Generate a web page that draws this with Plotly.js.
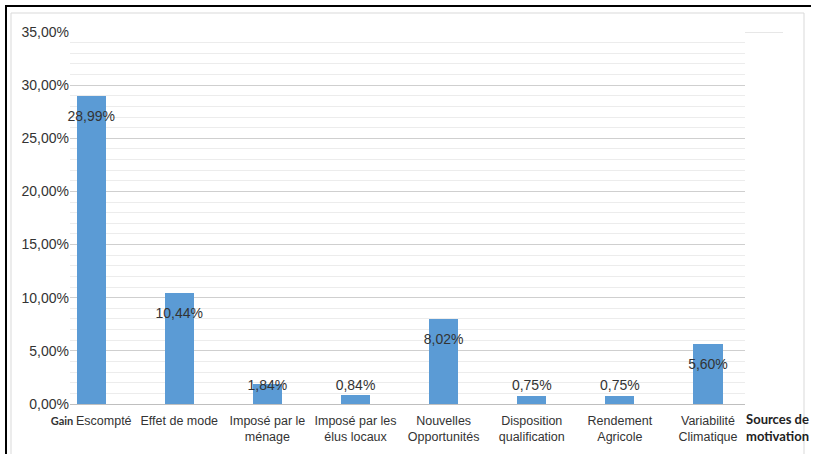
<!DOCTYPE html>
<html>
<head>
<meta charset="utf-8">
<script src="https://cdn.plot.ly/plotly-3.0.1.min.js"></script>
<style>
html,body{margin:0;padding:0;background:#fff;}
#chart{width:813px;height:454px;}
</style>
</head>
<body>
<div id="chart"></div>
<script>
var categories = ["Gain Escompté","Effet de mode","Imposé par le ménage","Imposé par les élus locaux","Nouvelles Opportunités","Disposition qualification","Rendement Agricole","Variabilité Climatique"];
var tickLabels = ['<span style="font-family:Lato,Liberation Sans;font-weight:bold;font-size:11px">Gain </span>Escompté',"Effet de mode","Imposé par le<br>ménage","Imposé par les<br>élus locaux","Nouvelles<br>Opportunités","Disposition<br>qualification","Rendement<br>Agricole","Variabilité<br>Climatique"];
var values = [28.99,10.44,1.84,0.84,8.02,0.75,0.75,5.60];
var yTicks = [0,5,10,15,20,25,30,35];
var yTickText = ["0,00%","5,00%","10,00%","15,00%","20,00%","25,00%","30,00%","35,00%"];

var idx = categories.map(function(c,i){return i;});
var labelText = values.map(function(v){return v.toFixed(2).replace('.',',')+'%';});
var labelY = values.map(function(v){return Math.max(v-2,1.6);});

var fam = "Liberation Sans, Arial, sans-serif";

var L=70, R=745, T=32, B=404;
function px(p){return (p-L)/(R-L);}
function py(p){return (B-p)/(B-T);}

var traces = [
  {type:'bar', x:idx, y:values, width:0.33, marker:{color:'#5B9BD5'}, hoverinfo:'none'},
  {type:'scatter', mode:'text', x:idx, y:labelY, text:labelText, textposition:'middle center',
   textfont:{family:fam, size:14, color:'#333333'}, hoverinfo:'none', cliponaxis:false}
];

var layout = {
  width:813, height:454,
  margin:{l:L, r:813-R, t:T, b:454-B, pad:0},
  paper_bgcolor:'#ffffff', plot_bgcolor:'#ffffff',
  showlegend:false,
  bargap:0,
  xaxis:{range:[-0.24,7.42], tickvals:idx, ticktext:tickLabels, showgrid:false, zeroline:false,
    showline:true, linecolor:'#bfbfbf', linewidth:1, ticks:'outside', ticklen:5, tickcolor:'rgba(0,0,0,0)',
    tickfont:{family:fam, size:12.5, color:'#333333'}, tickangle:0, fixedrange:true},
  yaxis:{range:[0,35], tickvals:yTicks, ticktext:yTickText, showgrid:true, gridcolor:'#cfcfcf', gridwidth:1,
    zeroline:false, showline:false, ticks:'', tickfont:{family:fam, size:14, color:'#333333'},
    minor:{dtick:1, showgrid:true, gridcolor:'#ececec', gridwidth:1}, fixedrange:true},
  annotations:[
    {xref:'paper', yref:'paper', x:px(777), y:py(409), xanchor:'center', yanchor:'top', showarrow:false,
     text:'<b>Sources de</b><br><b>motivation</b>', font:{family:'Lato, Liberation Sans, sans-serif', size:13, color:'#222222'}}
  ],
  shapes:[
    {type:'line', xref:'paper', yref:'paper', x0:px(5), x1:px(811), y0:py(6), y1:py(6), line:{color:'#000', width:2}},
    {type:'line', xref:'paper', yref:'paper', x0:px(6), x1:px(6), y0:py(6), y1:py(460), line:{color:'#000', width:2}},
    {type:'rect', xref:'paper', yref:'paper', x0:px(11), x1:px(804), y0:py(13), y1:py(470), line:{color:'#d9d9d9', width:1}},
    {type:'line', xref:'paper', yref:'y', x0:1, x1:px(783), y0:35, y1:35, line:{color:'#cfcfcf', width:1}}
  ]
};
Plotly.newPlot('chart', traces, layout, {staticPlot:true});
</script>
</body>
</html>
